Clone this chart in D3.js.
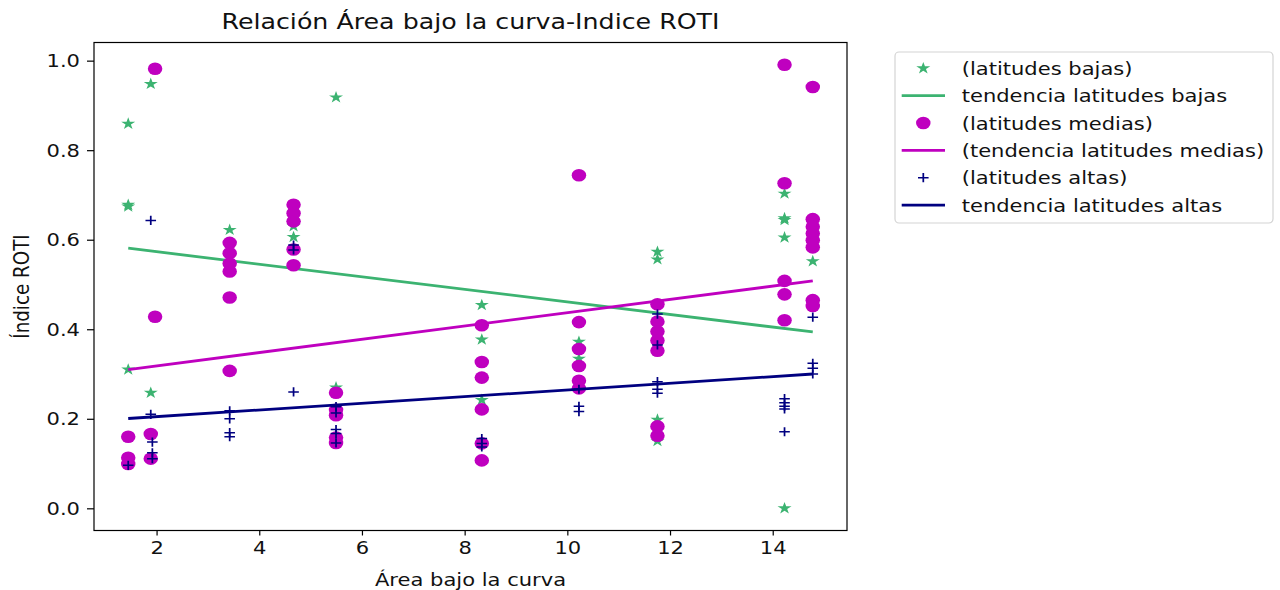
<!DOCTYPE html>
<html>
<head>
<meta charset="utf-8">
<script src="https://cdn.jsdelivr.net/npm/d3@7"></script>
<style>
  body { margin: 0; background: #fff; }
  svg { display: block; }
  text { font-family: "DejaVu Sans", sans-serif; fill: #111; }
</style>
</head>
<body>
<svg id="chart" width="1280" height="590"></svg>
<script>
// ---- data: área bajo la curva (x) vs índice ROTI (y) ----
const xBajas = [1.448, 1.448, 1.448, 1.448, 1.887, 1.887, 3.424, 4.668, 4.668, 5.495, 5.495,
                8.334, 8.334, 8.334, 10.226, 10.226, 11.755, 11.755, 11.755, 11.755,
                14.23, 14.23, 14.23, 14.23, 14.23, 14.78];
const yBajas = [0.859, 0.678, 0.674, 0.310, 0.948, 0.258, 0.622, 0.630, 0.606, 0.918, 0.270,
                0.454, 0.377, 0.242, 0.372, 0.334, 0.573, 0.556, 0.198, 0.150,
                0.703, 0.648, 0.644, 0.605, 0.000, 0.552];

const xMedias = [1.448, 1.448, 1.448, 1.887, 1.887, 1.971, 1.971,
                 3.424, 3.424, 3.424, 3.424, 3.424, 3.424,
                 4.668, 4.668, 4.668, 4.668, 4.668,
                 5.495, 5.495, 5.495, 5.495, 5.495,
                 8.334, 8.334, 8.334, 8.334, 8.334, 8.334,
                 10.226, 10.226, 10.226, 10.226, 10.226, 10.226,
                 11.755, 11.755, 11.755, 11.755, 11.755, 11.755, 11.755,
                 14.23, 14.23, 14.23, 14.23, 14.23,
                 14.78, 14.78, 14.78, 14.78, 14.78, 14.78, 14.78, 14.78];
const yMedias = [0.160, 0.113, 0.099, 0.166, 0.111, 0.982, 0.428,
                 0.593, 0.570, 0.547, 0.529, 0.471, 0.307,
                 0.678, 0.659, 0.641, 0.578, 0.543,
                 0.258, 0.220, 0.208, 0.158, 0.146,
                 0.409, 0.327, 0.292, 0.221, 0.145, 0.107,
                 0.744, 0.416, 0.356, 0.318, 0.285, 0.268,
                 0.456, 0.417, 0.395, 0.375, 0.352, 0.183, 0.162,
                 0.991, 0.726, 0.508, 0.478, 0.420,
                 0.941, 0.646, 0.629, 0.614, 0.599, 0.583, 0.465, 0.452];

const xAltas = [1.448, 1.887, 1.887, 1.918, 1.918, 1.918,
                3.424, 3.424, 3.424, 3.424,
                4.668, 4.668, 4.668,
                5.495, 5.495, 5.495, 5.495, 5.495,
                8.334, 8.334, 8.334,
                10.226, 10.226, 10.226,
                11.755, 11.755, 11.755, 11.755, 11.755,
                14.23, 14.23, 14.23, 14.23, 14.23,
                14.78, 14.78, 14.78, 14.78];
const yAltas = [0.096, 0.643, 0.210, 0.148, 0.124, 0.111,
                0.218, 0.200, 0.169, 0.160,
                0.260, 0.588, 0.577,
                0.227, 0.213, 0.176, 0.167, 0.146,
                0.156, 0.145, 0.137,
                0.266, 0.228, 0.216,
                0.434, 0.365, 0.283, 0.266, 0.257,
                0.245, 0.236, 0.228, 0.222, 0.171,
                0.427, 0.324, 0.313, 0.300];

// fitted trend lines, evaluated at the ends of the x range
const xTrend = [1.448, 14.78];
const yTrendBajas = [0.581, 0.394];
const yTrendMedias = [0.310, 0.508];
const yTrendAltas = [0.2006, 0.300];

const xTicks = [2, 4, 6, 8, 10, 12, 14];
const yTicks = [0.0, 0.2, 0.4, 0.6, 0.8, 1.0];

const titleText = "Relación Área bajo la curva-Indice ROTI";
const xLabelText = "Área bajo la curva";
const yLabelText = "Índice ROTI";
const legendLabels = ["(latitudes bajas)", "tendencia latitudes bajas",
                      "(latitudes medias)", "(tendencia latitudes medias)",
                      "(latitudes altas)", "tendencia latitudes altas"];

// ---- styling ----
const GREEN = "#3cb371", MAGENTA = "#bf00bf", NAVY = "#000080";
const SX = 1.15;          // horizontal stretch applied to text and markers
const FS = 18.3;          // base font size
const plot = { left: 94, right: 847, top: 42.5, bottom: 530.5 };

const svg = d3.select("#chart");

function padded(vals) {
  const lo = d3.min(vals), hi = d3.max(vals), r = hi - lo;
  return [lo - 0.05 * r, hi + 0.05 * r];
}
const x = d3.scaleLinear().domain(padded(xBajas.concat(xMedias, xAltas))).range([plot.left, plot.right]);
const y = d3.scaleLinear().domain(padded(yBajas.concat(yMedias, yAltas))).range([plot.bottom, plot.top]);

const zip = (xs, ys) => xs.map((v, i) => [v, ys[i]]);

// ---- axes ----
const gx = svg.append("g").attr("transform", `translate(0,${plot.bottom})`)
  .call(d3.axisBottom(x).tickValues(xTicks).tickSize(5).tickPadding(6).tickFormat(d3.format("d")));
const gy = svg.append("g").attr("transform", `translate(${plot.left},0)`)
  .call(d3.axisLeft(y).tickValues(yTicks).tickSize(7).tickFormat(d3.format(".1f")));
[gx, gy].forEach(g => {
  g.select(".domain").remove();
  g.selectAll(".tick line").attr("stroke", "#000").attr("stroke-width", 1.2);
  g.selectAll(".tick text").attr("font-size", FS).attr("fill", "#111")
    .attr("font-family", "DejaVu Sans, sans-serif");
});
gx.selectAll(".tick text").attr("transform", `scale(${SX},1)`);
gy.selectAll(".tick text").attr("x", -14 / SX).attr("transform", `scale(${SX},1)`);

// ---- marks ----
svg.append("defs").append("clipPath").attr("id", "plotclip")
  .append("rect").attr("x", plot.left).attr("y", plot.top)
  .attr("width", plot.right - plot.left).attr("height", plot.bottom - plot.top);
const marks = svg.append("g").attr("clip-path", "url(#plotclip)");

const starPath = d3.symbol().type(d3.symbolStar).size(46)();
const plusPath = "M-4.6,0H4.6M0,-4.6V4.6";
const line = d3.line().x(d => x(d[0])).y(d => y(d[1]));

function drawStars(g, pts) {
  g.selectAll(null).data(pts).join("path")
    .attr("d", starPath).attr("fill", GREEN)
    .attr("transform", d => `translate(${x(d[0])},${y(d[1])}) scale(${SX},1)`);
}
function drawDots(g, pts) {
  g.selectAll(null).data(pts).join("ellipse")
    .attr("cx", d => x(d[0])).attr("cy", d => y(d[1]))
    .attr("rx", 6.3 * SX).attr("ry", 6.3).attr("fill", MAGENTA);
}
function drawPlus(g, pts) {
  g.selectAll(null).data(pts).join("path")
    .attr("d", plusPath).attr("stroke", NAVY).attr("stroke-width", 1.5).attr("fill", "none")
    .attr("transform", d => `translate(${x(d[0])},${y(d[1])}) scale(${SX},1)`);
}
function drawTrend(g, ys, color) {
  g.append("path").datum(zip(xTrend, ys)).attr("d", line)
    .attr("fill", "none").attr("stroke", color).attr("stroke-width", 2.8);
}

drawStars(marks.append("g"), zip(xBajas, yBajas));
drawTrend(marks, yTrendBajas, GREEN);
drawDots(marks.append("g"), zip(xMedias, yMedias));
drawTrend(marks, yTrendMedias, MAGENTA);
drawPlus(marks.append("g"), zip(xAltas, yAltas));
drawTrend(marks, yTrendAltas, NAVY);

// frame
svg.append("rect").attr("x", plot.left).attr("y", plot.top)
  .attr("width", plot.right - plot.left).attr("height", plot.bottom - plot.top)
  .attr("fill", "none").attr("stroke", "#000").attr("stroke-width", 1.2);

// ---- text ----
function label(str, tx, ty, size, anchor, rotate) {
  svg.append("text")
    .attr("transform", `translate(${tx},${ty}) scale(${SX},1)` + (rotate ? ` rotate(${rotate})` : ""))
    .attr("text-anchor", anchor).attr("font-size", size).text(str);
}
label(titleText, (plot.left + plot.right) / 2, 29, 22, "middle");
label(xLabelText, (plot.left + plot.right) / 2, 586, FS, "middle");
label(yLabelText, 29, (plot.top + plot.bottom) / 2, FS, "middle", -90);

// ---- legend ----
const legend = svg.append("g");
legend.append("rect").attr("x", 895).attr("y", 52).attr("width", 378).attr("height", 171)
  .attr("rx", 4).attr("fill", "#fff").attr("stroke", "#d4d4d4").attr("stroke-width", 1.2);
const kinds = ["star", "line", "dot", "line", "plus", "line"];
const colors = [GREEN, GREEN, MAGENTA, MAGENTA, NAVY, NAVY];
legendLabels.forEach((txt, i) => {
  const cy = 68.3 + i * 27.35;
  const row = legend.append("g");
  if (kinds[i] === "line") {
    row.append("line").attr("x1", 901.7).attr("x2", 945).attr("y1", cy).attr("y2", cy)
      .attr("stroke", colors[i]).attr("stroke-width", 2.8);
  } else if (kinds[i] === "star") {
    row.append("path").attr("d", starPath).attr("fill", colors[i])
      .attr("transform", `translate(923.3,${cy}) scale(${SX},1)`);
  } else if (kinds[i] === "dot") {
    row.append("ellipse").attr("cx", 923.3).attr("cy", cy).attr("rx", 6.3 * SX).attr("ry", 6.3)
      .attr("fill", colors[i]);
  } else {
    row.append("path").attr("d", plusPath).attr("stroke", colors[i]).attr("stroke-width", 1.5)
      .attr("transform", `translate(923.3,${cy}) scale(${SX},1)`);
  }
  row.append("text").attr("transform", `translate(961.7,${cy + 6.5}) scale(${SX},1)`)
    .attr("font-size", FS).text(txt);
});
</script>
</body>
</html>
